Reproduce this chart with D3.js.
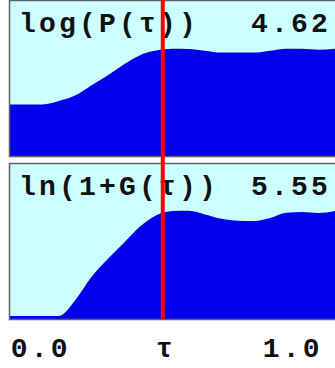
<!DOCTYPE html>
<html>
<head>
<meta charset="utf-8">
<script src="https://cdn.jsdelivr.net/npm/d3@7"></script>
<style>
  body { margin: 0; background: #fff; overflow: hidden; }
  text { font-family: "Liberation Mono", "Courier New", monospace; font-weight: bold; white-space: pre; }
</style>
</head>
<body>
<svg></svg>
<script>
var width = 335;
var height = 368;

// tau grid shared by both panels
var tau = [0, 0.05, 0.1, 0.15, 0.2, 0.25, 0.3, 0.35, 0.4, 0.45, 0.5,
           0.55, 0.6, 0.65, 0.7, 0.75, 0.8, 0.85, 0.9, 0.95, 1.0];

// log(P(tau)) as fraction of panel height
var logP = [0.333, 0.333, 0.333, 0.355, 0.39, 0.455, 0.52, 0.59, 0.65, 0.68, 0.692,
            0.69, 0.679, 0.667, 0.667, 0.667, 0.679, 0.692, 0.692, 0.686, 0.692];

// ln(1+G(tau)) as fraction of panel height
var lnG = [0.019, 0.019, 0.019, 0.02, 0.12, 0.27, 0.385, 0.49, 0.597, 0.67, 0.697,
           0.699, 0.675, 0.647, 0.634, 0.632, 0.652, 0.686, 0.69, 0.684, 0.697];

var panelNames = ["log(P(τ))", "ln(1+G(τ))"];
var panelValues = ["4.62", "5.55"];
var axisLabels = ["0.0", "τ", "1.0"];
var axisLabelPos = [0.095, 0.48, 0.87];
var cursorTau = 0.47;

var panels = [
    {name: panelNames[0], value: panelValues[0], values: logP, top: 1, bottom: 156},
    {name: panelNames[1], value: panelValues[1], values: lnG, top: 164, bottom: 319}
];

var xScale = d3.scaleLinear()
    .domain([0, 1])
    .range([10, 335]);

var svg = d3.select("svg")
    .attr("width", width)
    .attr("height", height);

panels.forEach(function(p) {
    var yScale = d3.scaleLinear()
        .domain([0, 1])
        .range([p.bottom, p.top]);

    var g = svg.append("g");

    // panel background
    g.append("rect")
        .attr("x", 10)
        .attr("y", p.top)
        .attr("width", 340)
        .attr("height", p.bottom - p.top)
        .attr("fill", "#ccffff");

    var area = d3.area()
        .x(function(d, i) { return xScale(tau[i]); })
        .y0(p.bottom)
        .y1(function(d) { return yScale(d); })
        .curve(d3.curveMonotoneX);

    g.append("path")
        .datum(p.values)
        .attr("d", area)
        .attr("fill", "#0000ee");

    // border
    g.append("rect")
        .attr("x", 9.5)
        .attr("y", p.top - 0.5)
        .attr("width", 340)
        .attr("height", p.bottom - p.top + 1)
        .attr("fill", "none")
        .attr("stroke", "#606060")
        .attr("stroke-width", 1.5);

    // label
    g.append("text")
        .attr("x", 19)
        .attr("y", p.top + 31)
        .style("font-size", "28px")
        .style("letter-spacing", "3.2px")
        .attr("fill", "#111")
        .text(p.name);

    // value
    g.append("text")
        .attr("x", 251)
        .attr("y", p.top + 31)
        .style("font-size", "28px")
        .style("letter-spacing", "3.2px")
        .attr("fill", "#111")
        .text(p.value);
});

// red cursor line
svg.append("line")
    .attr("x1", xScale(cursorTau))
    .attr("x2", xScale(cursorTau))
    .attr("y1", 0)
    .attr("y2", 319)
    .attr("stroke", "#ff0000")
    .attr("stroke-width", 4);

// bottom labels
svg.selectAll(".axislabel")
    .data(axisLabels)
    .enter()
    .append("text")
        .attr("class", "axislabel")
        .attr("x", function(d, i) { return xScale(axisLabelPos[i]); })
        .attr("y", 357)
        .style("text-anchor", "middle")
        .style("font-size", "28px")
        .style("letter-spacing", "3.2px")
        .attr("fill", "#111")
        .text(function(d) { return d; });
</script>
</body>
</html>
